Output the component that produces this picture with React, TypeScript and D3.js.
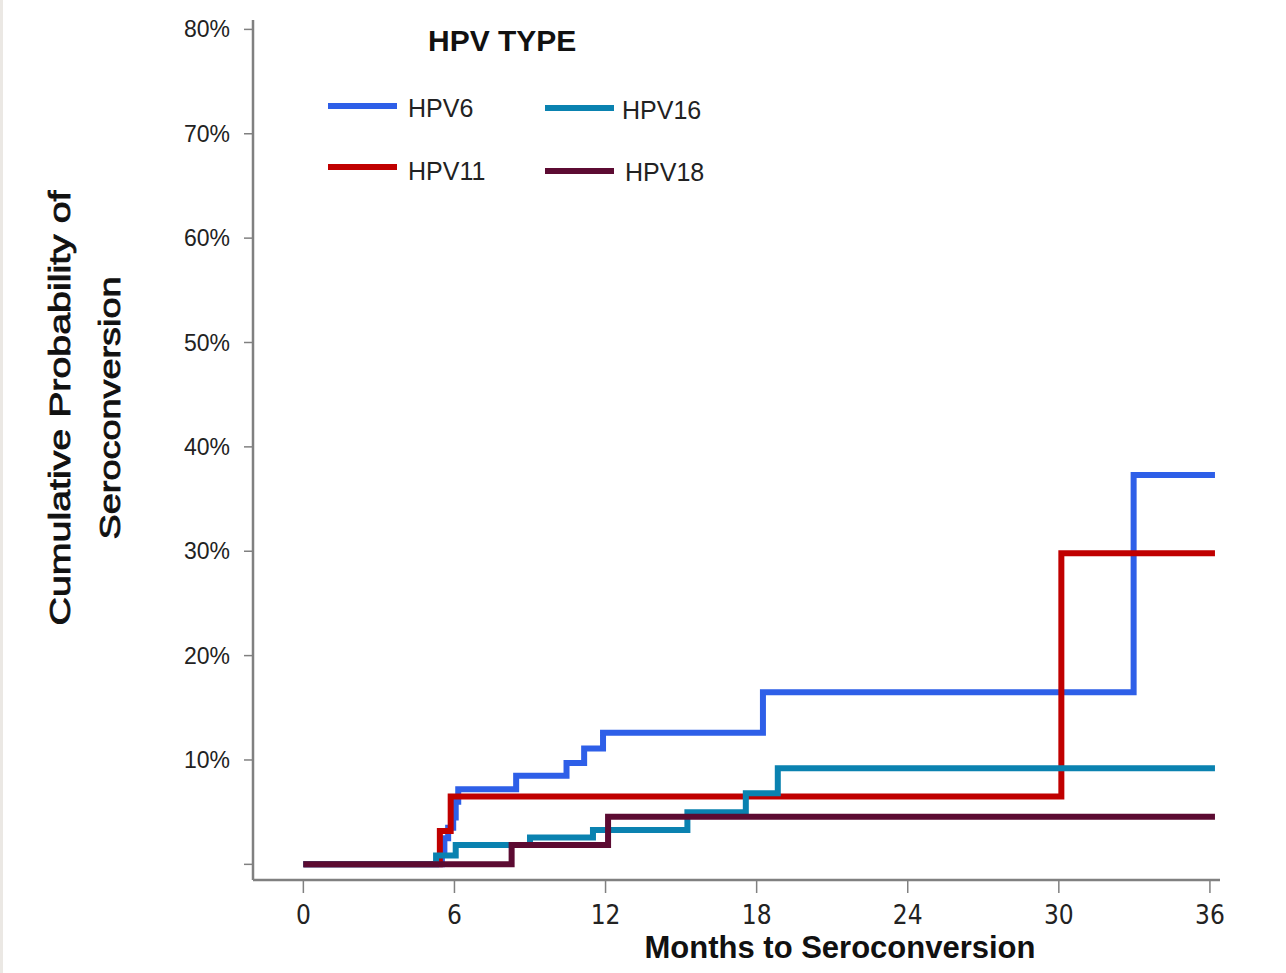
import { useEffect, useRef } from "react";
import * as d3 from "d3";

type Pt = [number, number]; // [month, cumulative probability]

// step points (each value holds until the next month)
const HPV6: Pt[] = [
  [0, 0], [5.5, 0.01], [5.6, 0.025], [5.75, 0.035], [5.95, 0.045], [6.05, 0.06],
  [6.15, 0.072], [8.45, 0.085], [10.45, 0.097], [11.15, 0.111], [11.9, 0.126],
  [18.25, 0.165], [32.97, 0.373], [36.2, 0.373],
];
const HPV11: Pt[] = [
  [0, 0], [5.42, 0.032], [5.85, 0.065], [30.1, 0.298], [36.2, 0.298],
];
const HPV16: Pt[] = [
  [0, 0], [5.27, 0.0085], [6.05, 0.0185], [9.0, 0.0257], [11.5, 0.033],
  [15.25, 0.05], [17.57, 0.068], [18.84, 0.092], [36.2, 0.092],
];
const HPV18: Pt[] = [
  [0, 0], [8.27, 0.0185], [12.1, 0.0456], [36.2, 0.0456],
];

const SERIES = [
  { name: "HPV6", data: HPV6, color: "#2e5fe8" },
  { name: "HPV11", data: HPV11, color: "#c00000" },
  { name: "HPV16", data: HPV16, color: "#0a82b0" },
  { name: "HPV18", data: HPV18, color: "#5c0b32" },
];

const X_TICKS = [0, 6, 12, 18, 24, 30, 36];
const Y_TICKS = [0, 0.1, 0.2, 0.3, 0.4, 0.5, 0.6, 0.7, 0.8];

const WIDTH = 1286;
const HEIGHT = 973;
const FONT = "'Liberation Sans', Arial, sans-serif";

export default function App() {
  const svgRef = useRef<SVGSVGElement>(null);

  useEffect(() => {
    if (!svgRef.current) return;
    const svg = d3.select(svgRef.current);
    svg.selectAll("*").remove();

    const x = d3.scaleLinear().domain([-2, 36.4]).range([253, 1220]);
    const y = d3.scaleLinear().domain([-0.015, 0.809]).range([880, 20]);

    svg.append("rect").attr("width", WIDTH).attr("height", HEIGHT).attr("fill", "#fff");
    svg.append("rect").attr("width", 3).attr("height", HEIGHT).attr("fill", "#ebe8e4");

    // y axis
    const yAxis = svg.append("g").attr("transform", `translate(${x(-2)},0)`);
    yAxis
      .append("line")
      .attr("y1", y(0.809))
      .attr("y2", y(-0.015))
      .attr("stroke", "#808080")
      .attr("stroke-width", 2.5);
    yAxis
      .selectAll(".ytick")
      .data(Y_TICKS)
      .join("line")
      .attr("class", "ytick")
      .attr("x1", -9)
      .attr("x2", 0)
      .attr("y1", (d) => y(d))
      .attr("y2", (d) => y(d))
      .attr("stroke", "#808080")
      .attr("stroke-width", 1.5);
    yAxis
      .selectAll(".ylab")
      .data(Y_TICKS.filter((d) => d > 0))
      .join("text")
      .attr("class", "ylab")
      .attr("x", -23)
      .attr("y", (d) => y(d))
      .attr("dy", "0.35em")
      .attr("text-anchor", "end")
      .attr("font-family", FONT)
      .attr("font-size", 23)
      .attr("fill", "#222")
      .text((d) => `${Math.round(d * 100)}%`);

    // x axis
    const xAxis = svg.append("g").attr("transform", `translate(0,${y(-0.015)})`);
    xAxis
      .append("line")
      .attr("x1", x(-2))
      .attr("x2", x(36.4))
      .attr("stroke", "#808080")
      .attr("stroke-width", 2.5);
    xAxis
      .selectAll(".xtick")
      .data(X_TICKS)
      .join("line")
      .attr("class", "xtick")
      .attr("x1", (d) => x(d))
      .attr("x2", (d) => x(d))
      .attr("y1", 0)
      .attr("y2", 13)
      .attr("stroke", "#808080")
      .attr("stroke-width", 1.5);
    xAxis
      .selectAll(".xlab")
      .data(X_TICKS)
      .join("text")
      .attr("class", "xlab")
      .attr("x", (d) => x(d))
      .attr("y", 44)
      .attr("text-anchor", "middle")
      .attr("font-family", "'Liberation Sans Narrow', 'DejaVu Sans Condensed', sans-serif")
      .attr("font-size", 26)
      .attr("fill", "#222")
      .text((d) => d);

    // axis titles
    svg
      .append("text")
      .attr("x", 840)
      .attr("y", 958)
      .attr("text-anchor", "middle")
      .attr("font-family", FONT)
      .attr("font-weight", "bold")
      .attr("font-size", 31)
      .attr("fill", "#111")
      .text("Months to Seroconversion");

    const yTitle = [
      { text: "Cumulative Probability of", bx: 70, len: 435 },
      { text: "Seroconversion", bx: 120, len: 263 },
    ];
    svg
      .selectAll(".ytitle")
      .data(yTitle)
      .join("text")
      .attr("class", "ytitle")
      .attr("transform", (d) => `translate(${d.bx},408) rotate(-90)`)
      .attr("text-anchor", "middle")
      .attr("font-family", FONT)
      .attr("font-size", 29)
      .attr("textLength", (d) => d.len)
      .attr("lengthAdjust", "spacingAndGlyphs")
      .attr("fill", "#111")
      .attr("stroke", "#111")
      .attr("stroke-width", 0.8)
      .text((d) => d.text);

    // step lines
    const line = d3
      .line<Pt>()
      .x((d) => x(d[0]))
      .y((d) => y(d[1]))
      .curve(d3.curveStepAfter);

    svg
      .selectAll(".series")
      .data(SERIES)
      .join("path")
      .attr("class", "series")
      .attr("d", (d) => line(d.data))
      .attr("fill", "none")
      .attr("stroke", (d) => d.color)
      .attr("stroke-width", 6)
      .attr("stroke-linejoin", "miter");

    // legend
    svg
      .append("text")
      .attr("x", 428)
      .attr("y", 51)
      .attr("font-family", FONT)
      .attr("font-weight", "bold")
      .attr("font-size", 30)
      .attr("fill", "#111")
      .text("HPV TYPE");

    const legendPos: Record<string, { lx: number; ly: number; tx: number; ty: number }> = {
      HPV6: { lx: 328, ly: 106, tx: 408, ty: 108 },
      HPV16: { lx: 545, ly: 108, tx: 622, ty: 110 },
      HPV11: { lx: 328, ly: 167, tx: 408, ty: 171 },
      HPV18: { lx: 545, ly: 171, tx: 625, ty: 172 },
    };
    const leg = svg
      .selectAll(".leg")
      .data(SERIES)
      .join("g")
      .attr("class", "leg");
    leg
      .append("line")
      .attr("x1", (d) => legendPos[d.name].lx)
      .attr("x2", (d) => legendPos[d.name].lx + 69)
      .attr("y1", (d) => legendPos[d.name].ly)
      .attr("y2", (d) => legendPos[d.name].ly)
      .attr("stroke", (d) => d.color)
      .attr("stroke-width", 6);
    leg
      .append("text")
      .attr("x", (d) => legendPos[d.name].tx)
      .attr("y", (d) => legendPos[d.name].ty)
      .attr("dy", "0.35em")
      .attr("font-family", FONT)
      .attr("font-size", 25)
      .attr("fill", "#222")
      .text((d) => d.name);
  }, []);

  return (
    <svg
      ref={svgRef}
      width={WIDTH}
      height={HEIGHT}
      style={{ position: "absolute", left: 0, top: 0, display: "block" }}
    />
  );
}
